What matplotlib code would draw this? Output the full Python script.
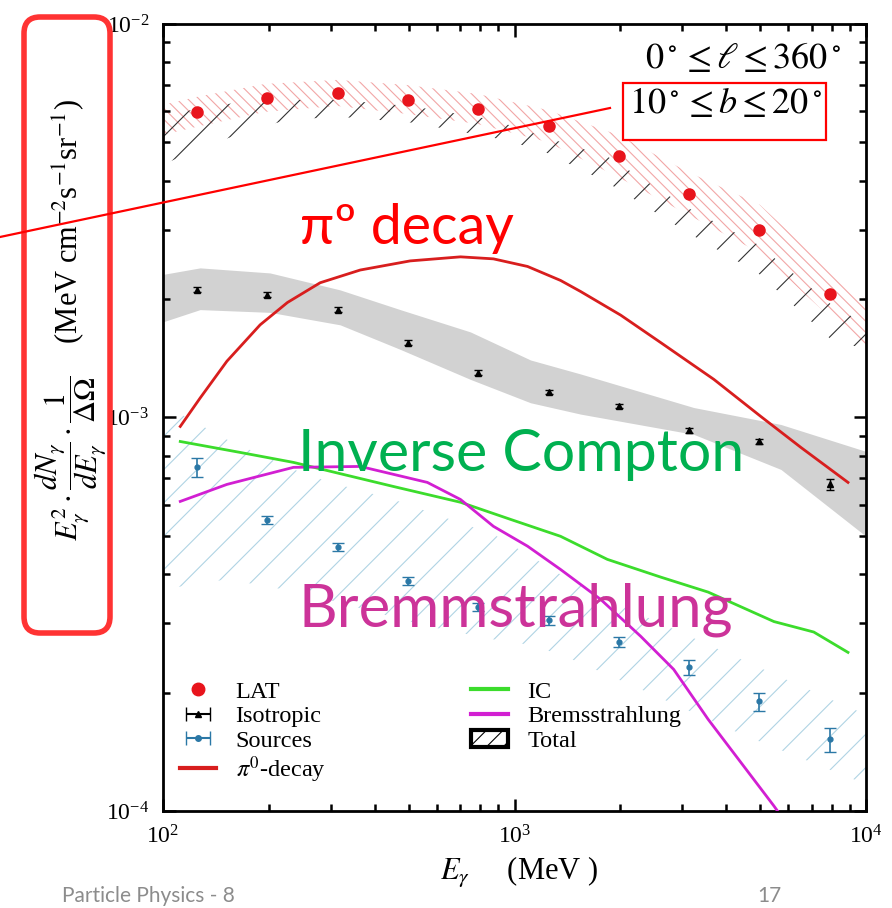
import numpy as np
import matplotlib
matplotlib.use('Agg')
import matplotlib.pyplot as plt
from matplotlib.lines import Line2D
from matplotlib.patches import Patch, FancyBboxPatch, Rectangle

plt.rcParams['font.family'] = ['Liberation Serif', 'DejaVu Serif']
plt.rcParams['mathtext.fontset'] = 'stix'
plt.rcParams['hatch.linewidth'] = 0.8

# measured points (MeV, flux)
energy = [125, 198, 315, 497, 788, 1250, 1980, 3140, 4970, 7880]
lat = [5.98e-3, 6.49e-3, 6.68e-3, 6.41e-3, 6.08e-3, 5.51e-3, 4.62e-3, 3.70e-3, 3.00e-3, 2.06e-3]
iso = [2.11e-3, 2.05e-3, 1.88e-3, 1.55e-3, 1.30e-3, 1.16e-3, 1.07e-3, 9.27e-4, 8.69e-4, 6.76e-4]
iso_err = [3e-5, 3e-5, 2.5e-5, 2e-5, 2e-5, 1.5e-5, 1.5e-5, 1.5e-5, 1.5e-5, 2e-5]
src = [7.47e-4, 5.48e-4, 4.68e-4, 3.84e-4, 3.30e-4, 3.05e-4, 2.69e-4, 2.32e-4, 1.90e-4, 1.52e-4]
src_err = [4.0e-5, 1.3e-5, 1.1e-5, 9e-6, 8e-6, 8e-6, 8e-6, 1.0e-5, 1.0e-5, 1.1e-5]

# model curves
pi0_e = [112, 127.5, 152, 189, 226, 280, 364, 505, 702, 871, 1089, 1352, 1542, 2005, 2606, 3690, 5020, 6530, 8885]
pi0 = [9.49e-4, 1.12e-3, 1.39e-3, 1.72e-3, 1.96e-3, 2.20e-3, 2.37e-3, 2.50e-3, 2.56e-3, 2.53e-3,
       2.42e-3, 2.23e-3, 2.09e-3, 1.82e-3, 1.55e-3, 1.25e-3, 1.006e-3, 8.39e-4, 6.84e-4]
ic_e = [112, 166, 235, 452, 702, 974, 1352, 1837, 2606, 3555, 5470, 7100, 8885]
ic = [8.69e-4, 8.15e-4, 7.69e-4, 6.68e-4, 6.09e-4, 5.51e-4, 4.99e-4, 4.36e-4, 3.93e-4, 3.60e-4,
      3.03e-4, 2.85e-4, 2.53e-4]
brem_e = [112, 152, 235, 364, 565, 702, 871, 1089, 1352, 1758, 2285, 2837, 3555, 5470, 6530]
brem = [6.12e-4, 6.76e-4, 7.47e-4, 7.51e-4, 6.84e-4, 6.19e-4, 5.29e-4, 4.71e-4, 4.11e-4, 3.45e-4,
        2.78e-4, 2.29e-4, 1.71e-4, 1.03e-4, 8.24e-5]

# bands
iso_band_e = [100, 127.5, 201.6, 319, 473, 749, 1111, 1542, 3236, 5725, 10000]
iso_band_hi = [2.31e-3, 2.40e-3, 2.33e-3, 2.11e-3, 1.88e-3, 1.65e-3, 1.40e-3, 1.29e-3, 1.06e-3, 9.60e-4, 8.20e-4]
iso_band_lo = [1.75e-3, 1.88e-3, 1.85e-3, 1.72e-3, 1.49e-3, 1.25e-3, 1.09e-3, 1.02e-3, 9.06e-4, 7.38e-4, 4.99e-4]

lat_band_e = [100, 125, 195, 313, 492, 785, 1234, 1965, 3110, 4989, 7893, 10000]
lat_band_hi = [6.23e-3, 6.53e-3, 7.04e-3, 7.21e-3, 7.00e-3, 6.64e-3, 6.05e-3, 5.23e-3, 4.21e-3, 3.47e-3, 2.37e-3, 1.99e-3]
lat_band_lo = [5.23e-3, 5.48e-3, 5.98e-3, 6.19e-3, 5.91e-3, 5.57e-3, 5.02e-3, 4.09e-3, 3.28e-3, 2.62e-3, 1.80e-3, 1.49e-3]

tot_e = [100, 127.5, 169, 225.6, 319, 515, 871, 1186, 1841, 3110, 4925, 7945, 10000]
tot_hi = [5.81e-3, 6.12e-3, 6.34e-3, 6.41e-3, 6.41e-3, 6.17e-3, 5.71e-3, 5.20e-3, 4.60e-3, 3.41e-3, 2.75e-3, 1.94e-3, 1.72e-3]
tot_lo = [4.39e-3, 4.84e-3, 5.29e-3, 5.71e-3, 5.81e-3, 5.61e-3, 5.14e-3, 4.79e-3, 3.95e-3, 2.95e-3, 2.33e-3, 1.58e-3, 1.49e-3]

src_band_e = [100, 152, 235, 293, 452, 565, 871, 1089, 1352, 2285, 4405, 8490, 10000]
src_band_hi = [1.08e-3, 8.79e-4, 7.38e-4, 6.88e-4, 6.19e-4, 5.77e-4, 5.05e-4, 4.49e-4, 3.99e-4, 3.16e-4, 2.43e-4, 1.87e-4, 1.76e-4]
src_band_lo = [3.66e-4, 3.88e-4, 3.62e-4, 3.45e-4, 3.11e-4, 2.95e-4, 2.73e-4, 2.65e-4, 2.50e-4, 2.04e-4, 1.57e-4, 1.24e-4, 1.17e-4]

fig = plt.figure(figsize=(8.92, 9.08), dpi=100)
ax = fig.add_axes([0.1827, 0.1068, 0.7882, 0.8668])

ax.fill_between(iso_band_e, iso_band_lo, iso_band_hi, color='#d2d2d2', lw=0, zorder=1)
ax.fill_between(src_band_e, src_band_lo, src_band_hi, facecolor='none', edgecolor='#b0d4e4', hatch='/', lw=0, zorder=1)
ax.fill_between(lat_band_e, lat_band_lo, lat_band_hi, facecolor='none', edgecolor='#f2a6a6', hatch='\\\\\\', lw=0, zorder=1)
ax.fill_between(tot_e, tot_lo, tot_hi, facecolor='none', edgecolor='#333333', hatch='/', lw=0, zorder=2)

ax.plot(pi0_e, pi0, color='#d81e1e', lw=2, zorder=3)
ax.plot(ic_e, ic, color='#3cdc2c', lw=2, zorder=3)
ax.plot(brem_e, brem, color='#d21fd2', lw=2, zorder=3)

ax.plot(energy, lat, 'o', color='#e8141c', ms=8, zorder=5)
ax.errorbar(energy, iso, yerr=iso_err, fmt='^', color='black', ms=5, capsize=3, lw=1, zorder=5)
ax.errorbar(energy, src, yerr=src_err, fmt='o', color='#2b78a6', ms=3.5, capsize=4, lw=1.2, zorder=5)

ax.set_xscale('log')
ax.set_yscale('log')
ax.set_xlim(100, 10000)
ax.set_ylim(1e-4, 1e-2)

for s in ax.spines.values():
    s.set_linewidth(2)
ax.tick_params(which='both', direction='in', top=True, right=True, width=1.8)
ax.tick_params(which='major', length=9, labelsize=17, pad=10)
ax.tick_params(which='minor', length=5)

ax.set_xlabel(r'$E_\gamma$     (MeV )', fontsize=22, va='top')
ax.xaxis.set_label_coords(0.506, -0.056)
ax.set_ylabel(r'$E_\gamma^2\cdot\dfrac{dN_\gamma}{dE_\gamma}\cdot\dfrac{1}{\Delta\Omega}$    (MeV cm$^{-2}$s$^{-1}$sr$^{-1}$)',
              fontsize=22, va='center')
ax.yaxis.set_label_coords(-0.132, 0.624)

ax.text(0.964, 0.955, r'$0^\circ \leq \ell \leq 360^\circ$', transform=ax.transAxes,
        ha='right', va='center', fontsize=26)
ax.text(0.938, 0.898, r'$10^\circ \leq b \leq 20^\circ$', transform=ax.transAxes,
        ha='right', va='center', fontsize=26)

# legend with horizontal error-bar proxies
h_lat = Line2D([], [], ls='none', marker='o', color='#e8141c', ms=9)
h_iso = ax.errorbar([np.nan], [np.nan], xerr=[1], fmt='^', color='black', ms=5, capsize=5, lw=1.5)
h_src = ax.errorbar([np.nan], [np.nan], xerr=[1], fmt='o', color='#2b78a6', ms=4, capsize=5, lw=1.5)
h_pi0 = Line2D([], [], color='#d81e1e', lw=3)
h_ic = Line2D([], [], color='#3cdc2c', lw=3)
h_brem = Line2D([], [], color='#d21fd2', lw=3)
h_tot = Patch(facecolor='white', edgecolor='black', hatch='//', lw=3)
ax.legend([h_lat, h_iso, h_src, h_pi0, h_ic, h_brem, h_tot],
          ['LAT', 'Isotropic', 'Sources', r'$\pi^0$-decay', 'IC', 'Bremsstrahlung', 'Total'],
          ncol=2, loc='upper left', bbox_to_anchor=(0.01, 0.178), borderaxespad=0, frameon=False,
          fontsize=17.5, handlelength=1.5, handletextpad=0.8, labelspacing=0.1,
          columnspacing=6.0)

# slide overlays
fig.text(300 / 892, 1 - 228 / 908, 'π\u00ba decay', color='#ff0000', fontsize=40,
         family='Lato', va='center', ha='left')
fig.text(298 / 892, 1 - 455 / 908, 'Inverse Compton', color='#00b050', fontsize=42.5,
         family='Lato', va='center', ha='left')
fig.text(298 / 892, 1 - 610 / 908, 'Bremmstrahlung', color='#cc3399', fontsize=43,
         family='Lato', va='center', ha='left')
fig.text(235 / 892, 1 - 906 / 908, 'Particle Physics - 8', color='#8c8c8c', fontsize=15,
         family='Lato', va='bottom', ha='right')
fig.text(757 / 892, 1 - 906 / 908, '17', color='#8c8c8c', fontsize=15,
         family='Lato', va='bottom', ha='left')

fig.add_artist(Line2D([0, 610 / 892], [1 - 237 / 908, 1 - 108 / 908], color='#ff0000', lw=1.6,
                      transform=fig.transFigure))
fig.add_artist(Rectangle((623 / 892, 1 - 140 / 908), 203 / 892, 57 / 908, fill=False,
                         edgecolor='#ff0000', lw=1.6, transform=fig.transFigure))
fig.add_artist(FancyBboxPatch((24 / 892, 1 - 633 / 908), 86 / 892, 616 / 908,
                              boxstyle='round,pad=0,rounding_size=0.018', fill=False,
                              edgecolor='#ff3333', lw=4, transform=fig.transFigure))

fig.savefig('out.png', dpi=100)
